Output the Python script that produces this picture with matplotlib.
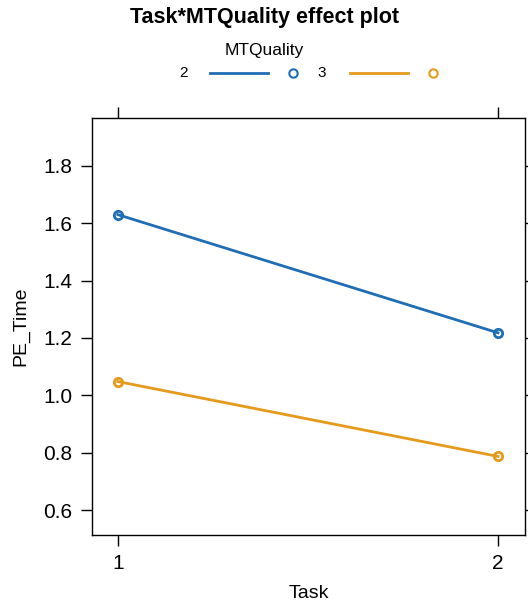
import matplotlib
matplotlib.use("Agg")
import matplotlib.pyplot as plt
from matplotlib.lines import Line2D

plt.rcParams['font.family'] = ['Liberation Sans', 'DejaVu Sans']

tasks = [1, 2]
task_labels = ["1", "2"]
levels = ["2", "3"]
pe_time = {
    "2": [1.63, 1.218],
    "3": [1.048, 0.787],
}
colors = {"2": "#1f6db5", "3": "#e69a1c"}
yticks = [0.6, 0.8, 1.0, 1.2, 1.4, 1.6, 1.8]

fig = plt.figure(figsize=(5.28, 6.05), dpi=100)
ax = fig.add_axes([92/528, 1-535/605, (525-92)/528, (535-118)/605])

for lv in levels:
    ax.plot(tasks, pe_time[lv], color=colors[lv], lw=2, marker='o', ms=6,
            mfc='none', mew=2)

ax.set_xlim(0.932, 2.071)
ax.set_ylim(0.513, 1.967)
ax.set_xticks(tasks)
ax.set_xticklabels(task_labels)
ax.set_yticks(yticks)
ax.set_yticklabels([f"{v:.1f}" for v in yticks])
ax.tick_params(axis='both', direction='out', length=8, width=1, labelsize=15,
               top=True, right=True, labeltop=False, labelright=False, pad=6)
for s in ax.spines.values():
    s.set_linewidth(1)
ax.set_xlabel("Task", fontsize=14, labelpad=8)
ax.set_ylabel("PE_Time", fontsize=14, labelpad=10)

fig.text(0.5, 1-18/605, "Task*MTQuality effect plot", ha='center', va='center',
         fontsize=15.5, fontweight='bold')
fig.text(0.5, 1-50/605, "MTQuality", ha='center', va='center', fontsize=12.5)

ly = 1 - 73/605
for lv, tx, lx0, lx1, cx in [("2", 183, 210, 268, 293), ("3", 322, 350, 408, 433)]:
    fig.text(tx/528, ly, lv, ha='center', va='center', fontsize=11)
    fig.add_artist(Line2D([lx0/528, lx1/528], [ly, ly], color=colors[lv], lw=2,
                          transform=fig.transFigure))
    fig.add_artist(Line2D([cx/528], [ly], color=colors[lv], lw=0, marker='o',
                          ms=6, mfc='none', mew=1.5, transform=fig.transFigure))

fig.savefig("out.png", dpi=100)
